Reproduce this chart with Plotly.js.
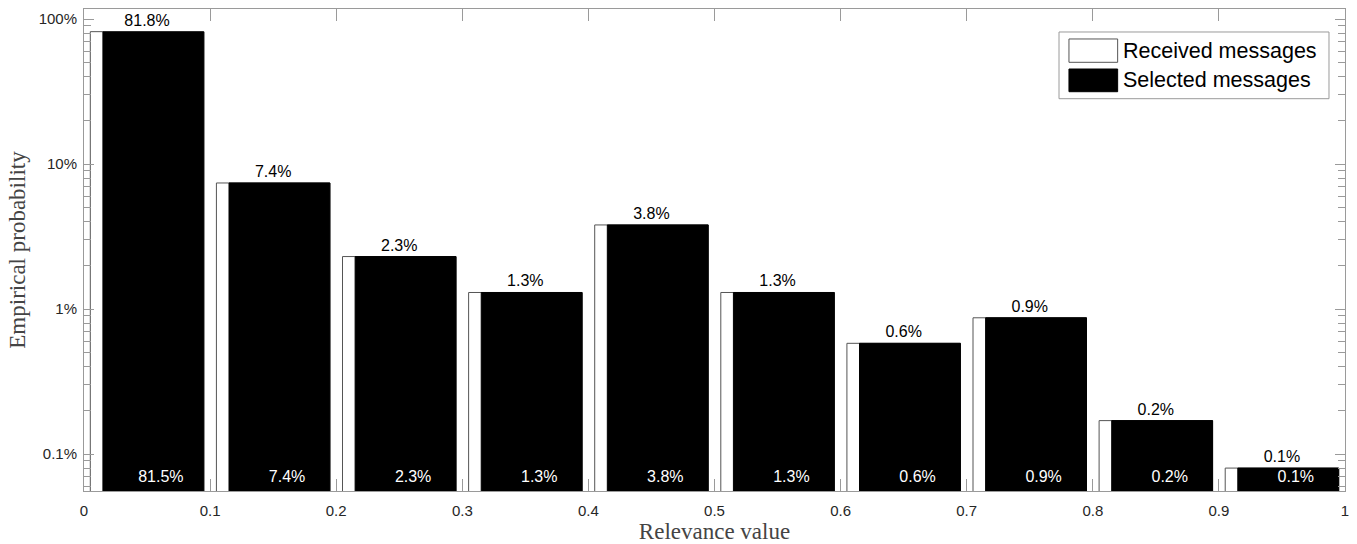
<!DOCTYPE html>
<html>
<head>
<meta charset="utf-8">
<script src="https://cdn.plot.ly/plotly-3.0.1.min.js"></script>
<style>
  html, body { margin: 0; padding: 0; background: #fff; }
  #chart { width: 1357px; height: 544px; }
</style>
</head>
<body>
<div id="chart"></div>
<script>
// ---- data ----
const binCenters = [0.05, 0.15, 0.25, 0.35, 0.45, 0.55, 0.65, 0.75, 0.85, 0.95];
const receivedValues = [0.818, 0.074, 0.023, 0.013, 0.038, 0.013, 0.0058, 0.0087, 0.0017, 0.0008];
const selectedValues = [0.815, 0.074, 0.023, 0.013, 0.038, 0.013, 0.0058, 0.0087, 0.0017, 0.0008];
const seriesNames = ['Received messages', 'Selected messages'];
const xTickVals = [0, 0.1, 0.2, 0.3, 0.4, 0.5, 0.6, 0.7, 0.8, 0.9, 1];
const xTickText = ['0', '0.1', '0.2', '0.3', '0.4', '0.5', '0.6', '0.7', '0.8', '0.9', '1'];
const yTickVals = [0.001, 0.01, 0.1, 1];
const yTickText = ['0.1%', '1%', '10%', '100%'];
const xAxisTitle = 'Relevance value';
const yAxisTitle = 'Empirical probability';

// ---- helpers ----
const fmt = v => (v * 100).toFixed(1) + '%';
const minorVals = [];
for (let k = -4; k <= 0; k++) {
  for (let m = 2; m <= 9; m++) minorVals.push(m * Math.pow(10, k));
}
const axisGray = '#9a9a9a';
const tickFont = { family: 'Liberation Sans, Arial, sans-serif', size: 15, color: '#262626' };
const titleFont = { family: 'Liberation Serif, Times New Roman, serif', size: 23, color: '#444444' };
const labelFamily = 'Liberation Sans, Arial, sans-serif';
const yRange = [-3.255, 0.069];
const bottomLabelY = 0.00068;

const traces = [
  {
    type: 'bar',
    name: seriesNames[0],
    x: binCenters,
    y: receivedValues,
    width: 0.09,
    marker: { color: '#ffffff', line: { color: '#555555', width: 1 } },
    text: receivedValues.map(fmt),
    textposition: 'outside',
    textfont: { family: labelFamily, size: 16, color: '#000000' },
    cliponaxis: false,
    hoverinfo: 'skip'
  },
  {
    type: 'bar',
    name: seriesNames[1],
    x: binCenters.map(c => c + 0.005),
    y: selectedValues,
    width: 0.08,
    marker: { color: '#000000', line: { color: '#000000', width: 1 } },
    hoverinfo: 'skip'
  },
  {
    type: 'scatter',
    mode: 'text',
    x: binCenters.map(c => c + 0.011),
    y: selectedValues.map(() => bottomLabelY),
    text: selectedValues.map(fmt),
    textposition: 'middle center',
    textfont: { family: labelFamily, size: 16, color: '#ffffff' },
    hoverinfo: 'skip',
    showlegend: false
  }
];

// custom legend (box, swatches, labels) in paper coordinates
const legendShapes = [
  { type: 'rect', xref: 'paper', yref: 'paper', x0: 0.7732, x1: 0.9873, y0: 0.8139, y1: 0.9523,
    line: { color: axisGray, width: 1 }, fillcolor: '#ffffff', layer: 'above' },
  { type: 'rect', xref: 'paper', yref: 'paper', x0: 0.7811, x1: 0.8197, y0: 0.8894, y1: 0.9378,
    line: { color: '#555555', width: 1 }, fillcolor: '#ffffff', layer: 'above' },
  { type: 'rect', xref: 'paper', yref: 'paper', x0: 0.7811, x1: 0.8197, y0: 0.8284, y1: 0.8755,
    line: { color: '#000000', width: 1 }, fillcolor: '#000000', layer: 'above' }
];
const legendAnnotations = [
  { xref: 'paper', yref: 'paper', x: 0.8225, y: 0.9136, xanchor: 'left', yanchor: 'middle',
    text: seriesNames[0], showarrow: false,
    font: { family: labelFamily, size: 21.5, color: '#000000' } },
  { xref: 'paper', yref: 'paper', x: 0.8225, y: 0.852, xanchor: 'left', yanchor: 'middle',
    text: seriesNames[1], showarrow: false,
    font: { family: labelFamily, size: 21.5, color: '#000000' } }
];

const layout = {
  width: 1357,
  height: 544,
  margin: { l: 84, r: 12, t: 9, b: 53 },
  paper_bgcolor: '#ffffff',
  plot_bgcolor: '#ffffff',
  barmode: 'overlay',
  showlegend: false,
  xaxis: {
    range: [0, 1],
    tickmode: 'array',
    tickvals: xTickVals,
    ticktext: xTickText,
    ticks: 'inside',
    ticklen: 12,
    tickcolor: axisGray,
    tickwidth: 1,
    showline: true,
    linecolor: axisGray,
    linewidth: 1,
    mirror: 'ticks',
    showgrid: false,
    zeroline: false,
    tickfont: tickFont,
    ticklabelstandoff: 6,
    title: { text: xAxisTitle, font: titleFont, standoff: 4 }
  },
  yaxis: {
    type: 'log',
    range: yRange,
    tickmode: 'array',
    tickvals: yTickVals,
    ticktext: yTickText,
    ticks: 'inside',
    ticklen: 10,
    tickcolor: axisGray,
    tickwidth: 1,
    minor: { tickmode: 'array', tickvals: minorVals, ticks: 'inside', ticklen: 7, tickcolor: axisGray, showgrid: false },
    showline: true,
    linecolor: axisGray,
    linewidth: 1,
    mirror: 'ticks',
    showgrid: false,
    zeroline: false,
    tickfont: tickFont,
    ticklabelstandoff: 3,
    title: { text: yAxisTitle, font: titleFont, standoff: 6 }
  },
  shapes: legendShapes,
  annotations: legendAnnotations
};

Plotly.newPlot('chart', traces, layout, { displayModeBar: false, staticPlot: true });
</script>
</body>
</html>
